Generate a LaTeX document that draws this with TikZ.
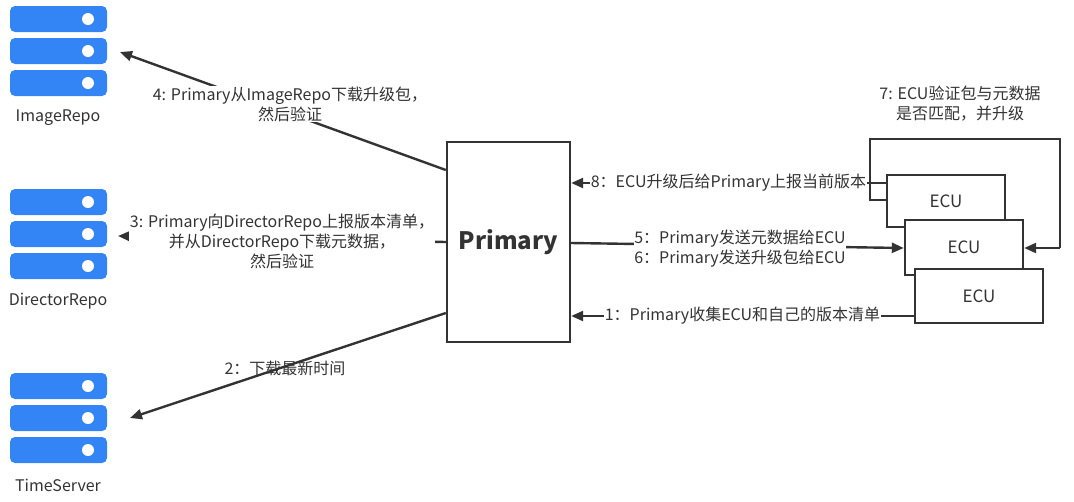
\documentclass[tikz,border=0pt]{standalone}
\usepackage{fontspec}
\setmainfont{Noto Sans CJK SC}
\usetikzlibrary{arrows.meta}
\definecolor{srv}{HTML}{3385F5}
\definecolor{ln}{HTML}{333333}
\begin{document}
\begin{tikzpicture}[x=1pt,y=-1pt,
  lbl/.style={font=\fontsize{16}{20}\selectfont,text=ln,align=center,inner sep=0.5pt},
  lbw/.style={lbl,fill=white},
  box/.style={draw=ln,line width=2.4pt,fill=white},
  con/.style={draw=ln,line width=2.4pt,-{Triangle[length=12pt,width=10pt]}},
  lin/.style={draw=ln,line width=2.4pt}]
\useasboundingbox (0,0) rectangle (1074,501);
\newcommand\srvicon[2]{%
  \foreach \k in {0,1,2}{
    \fill[srv,rounded corners=5pt] (10,#1+\k*32+1) rectangle (107,#1+\k*32+27);
    \fill[white] (88,#1+\k*32+14) circle (6);}
  \node[lbl] (#2) at (58,#1+113) {#2};}
\srvicon{5}{ImageRepo}
\srvicon{188}{DirectorRepo}
\srvicon{372}{TimeServer}
\coordinate (img) at (120,52);
\coordinate (dir) at (118,236);
\coordinate (tim) at (130,418);
\node[box,minimum width=123pt,minimum height=200pt,font=\bfseries\fontsize{24}{28}\selectfont,text=ln] (P) at (508.5,242) {Primary};
\node[box,minimum width=118pt,minimum height=52pt,font=\fontsize{17}{20}\selectfont,text=ln] (E1) at (946,201) {ECU};
\node[box,minimum width=118pt,minimum height=55pt,font=\fontsize{17}{20}\selectfont,text=ln] (E2) at (964,247.5) {ECU};
\node[box,minimum width=128pt,minimum height=54pt,font=\fontsize{17}{20}\selectfont,text=ln] (E3) at (979,296) {ECU};
% left arrows
\draw[con] (P.north west |- 0,170) -- (img);
\node[lbw] (l4) at (290,104) {4: Primary从ImageRepo下载升级包，\\然后验证};
\draw[con] (P.west) -- (dir);
\node[lbw] (l3) at (282,241) {3: Primary向DirectorRepo上报版本清单，\\并从DirectorRepo下载元数据，\\然后验证};
\draw[con] (P.south west |- 0,313) -- (tim);
\node[lbl] (l2) at (285,368) {2：下载最新时间};
% right arrows
\draw[con] (E1.west |- 0,183) -- (P.east |- 0,183) node[lbw,pos=0.5] (l8) {8：ECU升级后给Primary上报当前版本};
\draw[con] (P.east |- 0,243) -- (E2.west |- 0,248);
\node[lbw] (l5) at (740,249) {5：Primary发送元数据给ECU\\6：Primary发送升级包给ECU};
\draw[con] (E3.west |- 0,316) -- (P.east |- 0,316) node[lbw,pos=0.5] (l1) {1：Primary收集ECU和自己的版本清单};
\draw[lin] (E1.west |- 0,200) -- (870,200) -- (870,139) -- (1060,139) -- (1060,248);
\coordinate (lp) at (1060,248);
\draw[con] (lp) -- (E2.east |- 0,248);
\node[lbl] (l7) at (960,104) {7: ECU验证包与元数据\\是否匹配，并升级};
\end{tikzpicture}
\end{document}
